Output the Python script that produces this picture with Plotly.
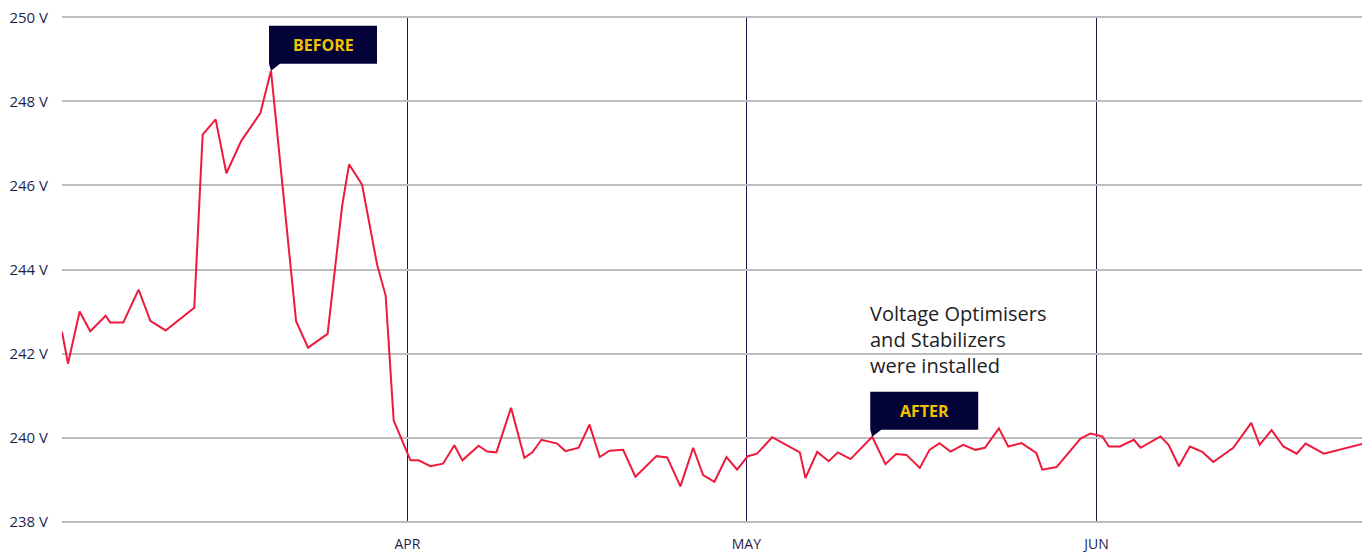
import pandas as pd
import plotly.graph_objects as go

# Days elapsed since 1 March (fractional, readings are irregularly spaced)
start_date = "2023-03-01"
days = [0.42, 0.95, 1.98, 2.92, 4.28, 4.69, 5.85, 7.20, 8.24, 9.59,
        12.13, 12.87, 14.02, 14.97, 16.29, 17.98, 18.92, 21.14, 22.20, 23.93,
        25.21, 25.83, 26.98, 28.31, 29.07, 29.78, 31.26, 31.99, 33.03, 34.15,
        35.15, 35.86, 37.30, 38.05, 38.87, 40.17, 41.35, 42.06, 42.86, 44.25,
        44.98, 46.16, 47.11, 48.02, 48.88, 50.09, 51.18, 53.04, 53.99, 55.16,
        56.29, 57.17, 58.17, 59.24, 60.18, 61.12, 61.95, 63.28, 65.73, 66.23,
        67.27, 68.29, 69.09, 70.22, 72.14, 73.31, 74.26, 75.17, 76.35, 77.21,
        78.10, 79.07, 80.19, 81.28, 82.11, 83.35, 84.18, 85.36, 86.66, 87.19,
        88.46, 90.58, 91.47, 92.50, 93.09, 94.06, 95.30, 95.89, 97.66, 98.40,
        99.28, 100.26, 101.36, 102.33, 104.10, 105.69, 106.43, 107.49, 108.53, 109.71,
        110.50, 112.12, 115.67]
voltage = [242.52, 241.76, 243.00, 242.53, 242.90, 242.74, 242.74, 243.52, 242.78, 242.55,
           243.09, 247.21, 247.57, 246.29, 247.06, 247.72, 248.73, 242.77, 242.14, 242.47,
           245.50, 246.50, 246.02, 244.12, 243.38, 240.41, 239.46, 239.46, 239.32, 239.38,
           239.82, 239.46, 239.81, 239.67, 239.65, 240.71, 239.52, 239.65, 239.95, 239.86,
           239.68, 239.76, 240.31, 239.54, 239.69, 239.71, 239.07, 239.56, 239.53, 238.84,
           239.76, 239.11, 238.95, 239.54, 239.24, 239.56, 239.62, 240.01, 239.65, 239.04,
           239.66, 239.44, 239.65, 239.49, 240.02, 239.37, 239.61, 239.59, 239.28, 239.71,
           239.87, 239.67, 239.83, 239.71, 239.76, 240.22, 239.79, 239.87, 239.64, 239.24,
           239.30, 239.98, 240.10, 240.03, 239.79, 239.79, 239.95, 239.76, 240.03, 239.82,
           239.32, 239.79, 239.66, 239.42, 239.76, 240.35, 239.83, 240.18, 239.79, 239.62,
           239.86, 239.62, 239.86]

month_ticks = ["2023-04-01", "2023-05-01", "2023-06-01"]
month_labels = ["APR", "MAY", "JUN"]
y_ticks = [238, 240, 242, 244, 246, 248, 250]
y_labels = [f"{v} V" for v in y_ticks]

callouts = ["BEFORE", "AFTER"]
callout_index = [16, 64]
note_text = "Voltage Optimisers<br>and Stabilizers<br>were installed"

dates = pd.Timestamp(start_date) + pd.to_timedelta(days, unit="D")

NAVY = "#03033a"
GOLD = "#f2c200"
TEXT = "#1f1f4f"
RED = "#ee1a3c"
FONT = "Open Sans"

fig = go.Figure()
fig.add_trace(go.Scatter(x=dates, y=voltage, mode="lines",
                         line=dict(color=RED, width=2), hoverinfo="x+y",
                         showlegend=False))

box_path = "M 0,0 L -2,7 L -2,45 L 106,45 L 106,7 L 9,7 Z"
for label, idx in zip(callouts, callout_index):
    fig.add_shape(type="path", xref="x", yref="y",
                  xsizemode="pixel", ysizemode="pixel",
                  xanchor=dates[idx], yanchor=voltage[idx],
                  path=box_path, fillcolor=NAVY, line=dict(width=0), layer="above")
    fig.add_annotation(x=dates[idx], y=voltage[idx], xref="x", yref="y",
                       text="<b>" + label + "</b>", showarrow=False,
                       xanchor="center", yanchor="middle", xshift=52, yshift=26,
                       font=dict(family=FONT, size=16, color=GOLD))

fig.add_annotation(x=dates[callout_index[1]], y=voltage[callout_index[1]],
                   xref="x", yref="y", text=note_text, showarrow=False,
                   xanchor="left", yanchor="bottom", align="left",
                   xshift=-4, yshift=56,
                   font=dict(family=FONT, size=20, color="#222222"))

fig.update_layout(
    width=1370, height=553,
    margin=dict(l=54, r=14, t=8, b=38, autoexpand=False),
    paper_bgcolor="white", plot_bgcolor="white",
    font=dict(family=FONT, size=13, color=TEXT),
    xaxis=dict(type="date", range=[dates[0], dates[-1]],
               tickvals=month_ticks, ticktext=month_labels,
               showgrid=True, gridcolor="#1b1b50", gridwidth=1,
               ticks="outside", ticklen=8, tickcolor="rgba(0,0,0,0)",
               zeroline=False, showline=False, automargin=False,
               ticklabeloverflow="allow",
               tickfont=dict(family=FONT, size=14, color=TEXT)),
    yaxis=dict(range=[237.97, 250.03], tickvals=y_ticks, ticktext=y_labels,
               showgrid=True, gridcolor="#bdbdbd", gridwidth=1.5,
               ticks="outside", ticklen=10, tickcolor="rgba(0,0,0,0)",
               zeroline=False, showline=False, automargin=False,
               ticklabeloverflow="allow",
               tickfont=dict(family=FONT, size=15, color=TEXT)),
)

fig.write_html("out.html")
